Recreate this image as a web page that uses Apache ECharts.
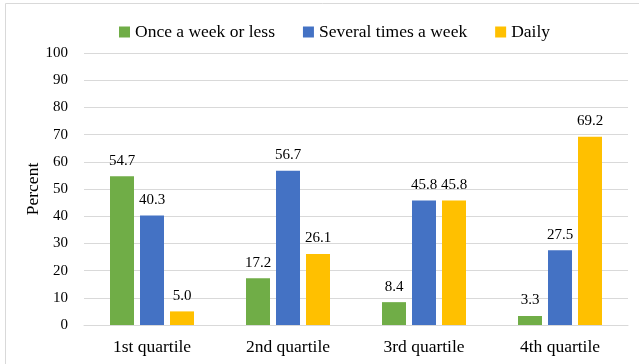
<!DOCTYPE html>
<html>
<head>
<meta charset="utf-8">
<script src="https://cdn.jsdelivr.net/npm/echarts@6/dist/echarts.min.js"></script>
<style>
  html, body { margin: 0; padding: 0; background: #fff; }
  #chart { width: 639px; height: 364px; }
</style>
</head>
<body>
<div id="chart"></div>
<script>
// Categories and series values
const categories = ['1st quartile', '2nd quartile', '3rd quartile', '4th quartile'];
const onceWeek = [54.7, 17.2, 8.4, 3.3];
const severalWeek = [40.3, 56.7, 45.8, 27.5];
const daily = [5.0, 26.1, 45.8, 69.2];
const seriesNames = ['Once a week or less', 'Several times a week', 'Daily'];
const colors = ['#70AD47', '#4472C4', '#FFC000'];

const font = '"Liberation Serif", "Times New Roman", serif';
const chart = echarts.init(document.getElementById('chart'), null, { renderer: 'canvas' });

function barSeries(name, data, color) {
  return {
    name: name,
    type: 'bar',
    data: data,
    barWidth: 24,
    barGap: '25%',
    itemStyle: { color: color },
    label: {
      show: true,
      position: 'top',
      distance: 8,
      color: '#000',
      fontFamily: font,
      fontSize: 15,
      formatter: p => p.value.toFixed(1)
    }
  };
}

chart.setOption({
  animation: false,
  textStyle: { fontFamily: font },
  graphic: [{
    type: 'rect',
    shape: { x: 5.5, y: 3.5, width: 660, height: 400 },
    style: { fill: 'none', stroke: '#D9D9D9', lineWidth: 1 },
    z: -1
  }],
  legend: {
    top: 18,
    left: 114,
    itemWidth: 11,
    itemHeight: 11,
    itemGap: 28,
    icon: 'rect',
    textStyle: { fontFamily: font, fontSize: 17.5, color: '#000' },
    data: seriesNames
  },
  grid: { left: 84, right: 11, top: 53, bottom: 39 },
  xAxis: {
    type: 'category',
    data: categories,
    axisLine: { lineStyle: { color: '#D9D9D9', width: 1 } },
    axisTick: { show: false },
    axisLabel: { color: '#000', fontFamily: font, fontSize: 17.5, margin: 13 }
  },
  yAxis: {
    type: 'value',
    min: 0,
    max: 100,
    interval: 10,
    name: 'Percent',
    nameLocation: 'middle',
    nameGap: 42,
    nameMoveOverlap: false,
    nameTextStyle: { color: '#000', fontFamily: font, fontSize: 17.5 },
    axisLine: { show: false },
    axisTick: { show: false },
    axisLabel: { color: '#000', fontFamily: font, fontSize: 15, margin: 16 },
    splitLine: { lineStyle: { color: '#D9D9D9', width: 1 } }
  },
  series: [
    barSeries(seriesNames[0], onceWeek, colors[0]),
    barSeries(seriesNames[1], severalWeek, colors[1]),
    barSeries(seriesNames[2], daily, colors[2])
  ]
});
</script>
</body>
</html>
